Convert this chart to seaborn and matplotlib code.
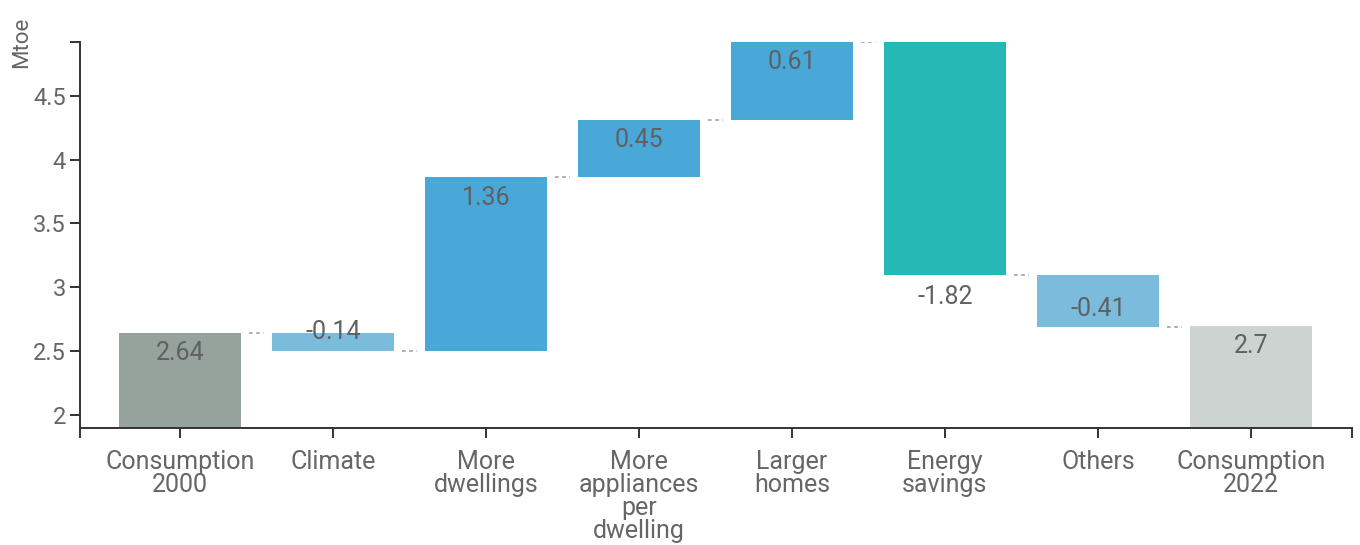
import numpy as np
import pandas as pd
import matplotlib
matplotlib.use("Agg")
import matplotlib.pyplot as plt
import seaborn as sns

# ---- data ----
categories = ["Consumption\n2000", "Climate", "More\ndwellings",
              "More\nappliances\nper\ndwelling", "Larger\nhomes",
              "Energy\nsavings", "Others", "Consumption\n2022"]
start_total = 2.64
effects = [-0.14, 1.36, 0.45, 0.61, -1.82, -0.41]
end_total = 2.7
yticks = [2, 2.5, 3, 3.5, 4, 4.5]

colors = ["#95a39c", "#7bbcdd", "#4aa8d8", "#4aa8d8", "#4aa8d8",
          "#26b8b4", "#7bbcdd", "#ccd3d1"]

# ---- waterfall geometry from data ----
values = [start_total] + effects + [end_total]
levels = [start_total]
for e in effects:
    levels.append(levels[-1] + e)
bottoms, heights = [0.0], [start_total]
for i, e in enumerate(effects):
    lo = min(levels[i], levels[i + 1])
    bottoms.append(lo)
    heights.append(abs(e))
bottoms.append(0.0)
heights.append(end_total)

df = pd.DataFrame({"category": categories, "height": heights})

sns.set_theme(style="white")
plt.rcParams["font.family"] = ["Roboto", "DejaVu Sans"]

fig = plt.figure(figsize=(13.6, 5.45), dpi=100)
ax = fig.add_axes([80 / 1360, 1 - 428 / 545, 1272 / 1360, (428 - 42) / 545])

sns.barplot(data=df, x="category", y="height", order=categories,
            errorbar=None, width=0.8, bottom=bottoms, color=colors[0],
            linewidth=0, ax=ax)
for p, c in zip(ax.patches, colors):
    p.set_facecolor(c)
    p.set_edgecolor("none")

ytop = max(levels)
ax.set_ylim(1.9, ytop)
ax.set_xlim(-0.654, 7.66)

# connectors
for i in range(len(categories) - 1):
    y = levels[i]
    ax.plot([i + 0.45, i + 0.55], [y, y], color="#a8a8a8", lw=1.3,
            linestyle=(0, (2, 2)), solid_capstyle="butt")

# value labels (offsets in pixels as style)
def px_to_data(px):
    return px / 127.5

label_y = []
for i, v in enumerate(values):
    b, h = bottoms[i], heights[i]
    top = b + h
    if i in (0, len(values) - 1) or v > 0:
        label_y.append(top - px_to_data(20))
    elif i == 1:
        label_y.append(top + px_to_data(1))
    elif i == 5:
        label_y.append(b - px_to_data(22))
    else:
        label_y.append(b + px_to_data(18))
for i, (v, y) in enumerate(zip(values, label_y)):
    ax.text(i, y, f"{v:g}", ha="center", va="center", fontsize=18,
            color="#5f6062")

# axes styling
for s in ["top", "right"]:
    ax.spines[s].set_visible(False)
for s in ["left", "bottom"]:
    ax.spines[s].set_color("#333333")
    ax.spines[s].set_linewidth(1.4)
ax.set_yticks(yticks)
ax.set_yticklabels([f"{t:g}" for t in yticks])
ax.set_yticks([ytop], minor=True)
ax.set_xticks([-0.654, 7.66], minor=True)
ax.tick_params(axis="both", which="both", direction="out", length=7,
               width=1.4, color="#333333", labelcolor="#666666",
               labelsize=17, left=True, bottom=True)
ax.tick_params(axis="x", which="major", pad=9, labelsize=18)
ax.tick_params(axis="y", which="major", pad=3)
for t in ax.get_xticklabels():
    t.set_linespacing(0.95)
ax.set_xlabel("")
ax.set_ylabel("Mtoe", fontsize=16, color="#666666")
ax.yaxis.set_label_coords(-0.046, 1.0)
ax.yaxis.label.set_va("center")

fig.savefig("out.png", dpi=100)
